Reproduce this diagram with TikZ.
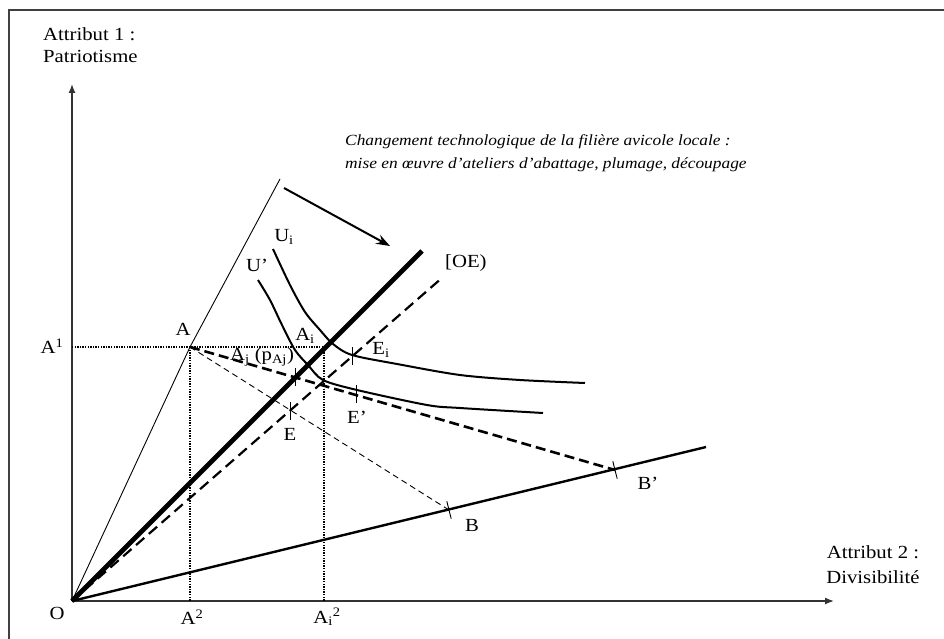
\documentclass[tikz,border=0pt]{standalone}
\usepackage{fontspec}
\setmainfont{Liberation Serif}[FakeStretch=1.12]
\usetikzlibrary{arrows.meta}
\begin{document}
\begin{tikzpicture}[x=1pt,y=-1pt,
  lbl/.style={inner sep=0pt,font=\fontsize{18.5}{22}\selectfont},
  tick/.style={line width=0.9pt},
  dotl/.style={line width=2.4pt,dash pattern=on 1.3pt off 1.3pt},
  curve/.style={line width=2pt,line join=round},
  axis/.style={line width=1.3pt,draw=black!80,-{Latex[length=9pt,width=7pt]}}]
\useasboundingbox (0,0) rectangle (944,639);
% frame (only top and left visible)
\draw[line width=1.2pt,draw=black!75] (9,660) -- (9,10) -- (960,10);
% coordinates
\coordinate (O) at (72,601);
\coordinate (A) at (190,347);
\coordinate (B) at (449,510);
\coordinate (Bp) at (615,470);
\coordinate (E) at (290,411);
\coordinate (Ep) at (356,394);
\coordinate (Ei) at (352,356);
\coordinate (T) at (295,377);
\coordinate (Ai) at (324,347);
\coordinate (Y1) at (72,347);
\coordinate (X2) at (190,601);
\coordinate (Xi2) at (324,601);
\coordinate (Ytop) at (72,84);
\coordinate (Xend) at (834,601);
\coordinate (Rtop) at (280,179);
\coordinate (Thk) at (422,251);
\coordinate (OEend) at (443,277);
\coordinate (OBend) at (706,447);
\coordinate (ArS) at (284,188);
\coordinate (ArE) at (390,246);
% axes
\draw[axis] (O) -- (Ytop);
\draw[axis] (O) -- (Xend);
% dotted guides
\draw[dotl] (Y1) -- (Ai);
\draw[dotl] (A) -- (X2);
\draw[dotl] (Ai) -- (Xi2);
% rays
\draw[line width=0.9pt] (O) -- (A) -- (Rtop);
\draw[line width=4.8pt] (O) -- (Thk);
\draw[line width=2.2pt,dash pattern=on 11pt off 6pt] (O) -- (OEend);
\draw[line width=2.4pt] (O) -- (OBend);
% budget lines
\draw[line width=0.9pt,dash pattern=on 6pt off 4pt] (A) -- (B);
\draw[line width=2.6pt,dash pattern=on 10pt off 5pt] (A) -- (Bp);
% indifference curves
\draw[curve] plot[smooth,tension=0.5] coordinates {(273,249) (290,285) (305,312) (320,330) (333,344) (352,355) (397,364) (460,375) (520,380) (585,383)};
\draw[curve] plot[smooth,tension=0.5] coordinates {(258,280) (270,300) (282,325) (295,350) (308,365) (323,380) (357,390) (427,405) (460,408) (543,413)};
% ticks
\foreach \p in {E,Ep,Ei,T} \draw[tick] ([yshift=-9pt]\p) -- ([yshift=9pt]\p);
\foreach \p in {B,Bp} \draw[tick] ([shift={(-2.2,-8.7)}]\p) -- ([shift={(2.2,8.7)}]\p);
% arrow
\draw[line width=2pt,-{Stealth[length=14pt,width=10pt,inset=5pt]}] (ArS) -- (ArE);
% labels
\node[lbl] (lA) at (183,329) {A};
\node[lbl] (lA1) at (52,346) {A\textsuperscript{1}};
\node[lbl] (lAi) at (305,336) {A\textsubscript{i}};
\node[lbl] (lAj) at (262,357) {A\textsubscript{j} (p\textsubscript{Aj})};
\node[lbl] (lEi) at (381,350) {E\textsubscript{i}};
\node[lbl] (lE) at (290,434) {E};
\node[lbl] (lEp) at (357,417) {E’};
\node[lbl] (lB) at (472,525) {B};
\node[lbl] (lBp) at (648,483) {B’};
\node[lbl] (lUi) at (284,237) {U\textsubscript{i}};
\node[lbl] (lUp) at (257,265) {U’};
\node[lbl,anchor=west] (lOE) at (445,263) {[OE)};
\node[lbl] (lO) at (57,613) {O};
\node[lbl] (lA2) at (192,617) {A\textsuperscript{2}};
\node[lbl] (lAi2) at (327,617) {A\textsubscript{i}\textsuperscript{2}};
\node[lbl,anchor=west] (at1) at (43,34) {Attribut 1 :};
\node[lbl,anchor=west] (pat) at (43,56) {Patriotisme};
\node[lbl] (at2) at (873,552) {Attribut 2 :};
\node[lbl] (div) at (873,577) {Divisibilité};
\node[lbl,anchor=west,font=\fontsize{15.5}{20}\selectfont\itshape] (ch1) at (345,142) {Changement technologique de la filière avicole locale :};
\node[lbl,anchor=west,font=\fontsize{15.5}{20}\selectfont\itshape] (ch2) at (345,165) {mise en œuvre d’ateliers d’abattage, plumage, découpage};
\end{tikzpicture}
\end{document}
